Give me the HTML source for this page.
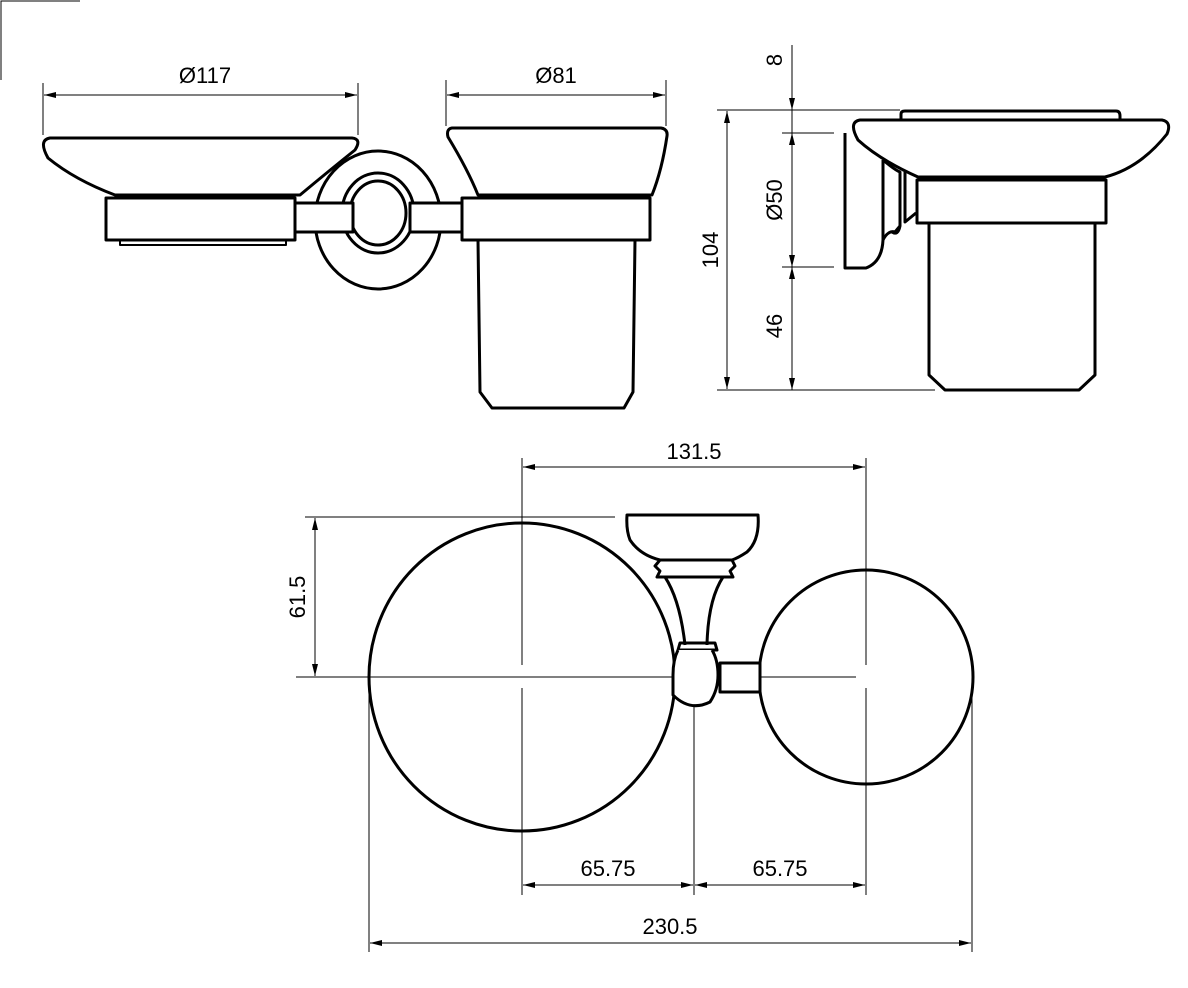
<!DOCTYPE html>
<html><head><style>
html,body{margin:0;padding:0;background:#fff;}
svg{display:block;}
text{font-family:"Liberation Sans",Arial,sans-serif;font-size:22px;fill:#000;}
</style></head><body>
<svg width="1188" height="988" viewBox="0 0 1188 988" xmlns="http://www.w3.org/2000/svg">
<defs>
<marker id="a" viewBox="0 0 12 6" refX="12" refY="3" markerWidth="12" markerHeight="6" orient="auto-start-reverse" markerUnits="userSpaceOnUse"><path d="M0,0 L12,3 L0,6 Z" fill="#000"/></marker>
</defs>
<g stroke="#000" stroke-width="1" fill="none">
<!-- corner mark -->
<path d="M1,80 V1 H80"/>
<!-- top dims -->
<line x1="43" y1="83" x2="43" y2="135"/><line x1="358" y1="83" x2="358" y2="135"/>
<line x1="44" y1="95" x2="357" y2="95" marker-start="url(#a)" marker-end="url(#a)"/>
<line x1="446" y1="80" x2="446" y2="126"/><line x1="666" y1="80" x2="666" y2="126"/>
<line x1="447" y1="95" x2="665" y2="95" marker-start="url(#a)" marker-end="url(#a)"/>
<!-- side dims -->
<line x1="792" y1="45" x2="792" y2="110" marker-end="url(#a)"/>
<line x1="792" y1="133" x2="792" y2="267" marker-start="url(#a)" marker-end="url(#a)"/>
<line x1="792" y1="267" x2="792" y2="390" marker-start="url(#a)" marker-end="url(#a)"/>
<line x1="792" y1="110" x2="792" y2="133"/>
<line x1="727" y1="111" x2="727" y2="389" marker-start="url(#a)" marker-end="url(#a)"/>
<line x1="717" y1="110" x2="900" y2="110"/>
<line x1="782" y1="133" x2="834" y2="133"/>
<line x1="782" y1="267" x2="834" y2="267"/>
<line x1="717" y1="390" x2="935" y2="390"/>
<!-- bottom dims -->
<line x1="522" y1="458" x2="522" y2="665"/><line x1="522" y1="688" x2="522" y2="895"/>
<line x1="866" y1="458" x2="866" y2="665"/><line x1="866" y1="688" x2="866" y2="895"/>
<line x1="694" y1="688" x2="694" y2="895"/>
<line x1="523" y1="467" x2="865" y2="467" marker-start="url(#a)" marker-end="url(#a)"/>
<line x1="305" y1="517" x2="615" y2="517"/>
<line x1="296" y1="677" x2="856" y2="677"/>
<line x1="315" y1="518" x2="315" y2="676" marker-start="url(#a)" marker-end="url(#a)"/>
<line x1="523" y1="885" x2="693" y2="885" marker-start="url(#a)" marker-end="url(#a)"/>
<line x1="695" y1="885" x2="865" y2="885" marker-start="url(#a)" marker-end="url(#a)"/>
<line x1="369" y1="680" x2="369" y2="952"/><line x1="972" y1="680" x2="972" y2="952"/>
<line x1="370" y1="943" x2="971" y2="943" marker-start="url(#a)" marker-end="url(#a)"/>
</g>
<g stroke="#000" stroke-width="3" fill="none" stroke-linejoin="round">
<!-- front view soap dish -->
<path d="M50,138 L352,138 Q362,139 355,150 Q330,170 300,195 L115,195 Q75,180 48,158 Q38,140 50,138 Z"/>
<rect x="106" y="198" width="189" height="42"/>
<path d="M120,240 V245 H286 V240" stroke-width="2"/>
<ellipse cx="378" cy="220" rx="63" ry="69" fill="#fff"/>
<ellipse cx="378" cy="213" rx="36" ry="40"/>
<ellipse cx="378" cy="213" rx="28" ry="32"/>
<rect x="295" y="203" width="58" height="29" fill="#fff"/>
<rect x="410" y="203" width="52" height="29" fill="#fff"/>
<path d="M353,203 V232 M410,203 V232"/>
<path d="M452,128 L661,128 Q668,129 667,136 Q662,170 652,195 L478,195 Q468,170 448,137 Q446,129 452,128 Z"/>
<rect x="462" y="198" width="188" height="42"/>
<path d="M478,240 L480,392 L492,408 L624,408 L633,392 L635,240"/>
<!-- side view -->
<path d="M901,119 V114 Q901,111 905,111 L1116,111 Q1120,111 1120,116 V119"/>
<path d="M860,120 L1162,120 Q1172,122 1167,134 Q1140,168 1105,177 L918,177 Q880,160 858,140 Q848,122 860,120 Z"/>
<path d="M845,133 L845,268 L866,268 Q882,262 883,240 L883,160"/>
<path d="M883,160 Q895,170 900,172 L900,226 L895,232 M905,172 L905,222 L916,213 M900,226 Q898,236 892,232 M883,240 Q888,230 895,232"/>
<rect x="917" y="180" width="189" height="43"/>
<path d="M929,223 L929,375 L945,390 L1079,390 L1095,375 L1095,223"/>
<!-- bottom view -->
<ellipse cx="522" cy="677" rx="153" ry="154"/>
<ellipse cx="866" cy="677" rx="107" ry="107"/>
<path d="M627,515 L758,515 Q760,540 747,552 Q738,558 732,560 L660,560 Q640,555 630,540 Q626,530 627,515 Z" fill="#fff"/>
<path d="M660,560 L655,566 L660,571 L657,577 L733,577 L730,571 L735,566 L732,560"/>
<path d="M665,577 Q680,600 685,645 M723,577 Q708,600 707,645"/>
<path d="M680,643 L715,643 L717,650 L678,650 Z"/>
<path d="M678,650 Q673,660 673,675 L673,695 Q690,712 710,702 Q718,690 718,675 Q718,660 712,650" fill="#fff"/>
<rect x="720" y="663" width="40" height="29" fill="#fff"/>
</g>
<g>
<text x="205" y="83" text-anchor="middle">Ø117</text>
<text x="556" y="83" text-anchor="middle">Ø81</text>
<text x="694" y="459" text-anchor="middle">131.5</text>
<text x="608" y="876" text-anchor="middle">65.75</text>
<text x="780" y="876" text-anchor="middle">65.75</text>
<text x="670" y="934" text-anchor="middle">230.5</text>
<text transform="translate(305,597) rotate(-90)" text-anchor="middle">61.5</text>
<text transform="translate(718,250) rotate(-90)" text-anchor="middle">104</text>
<text transform="translate(782,60) rotate(-90)" text-anchor="middle">8</text>
<text transform="translate(782,200) rotate(-90)" text-anchor="middle">Ø50</text>
<text transform="translate(782,326) rotate(-90)" text-anchor="middle">46</text>
</g>
</svg>
</body></html>
